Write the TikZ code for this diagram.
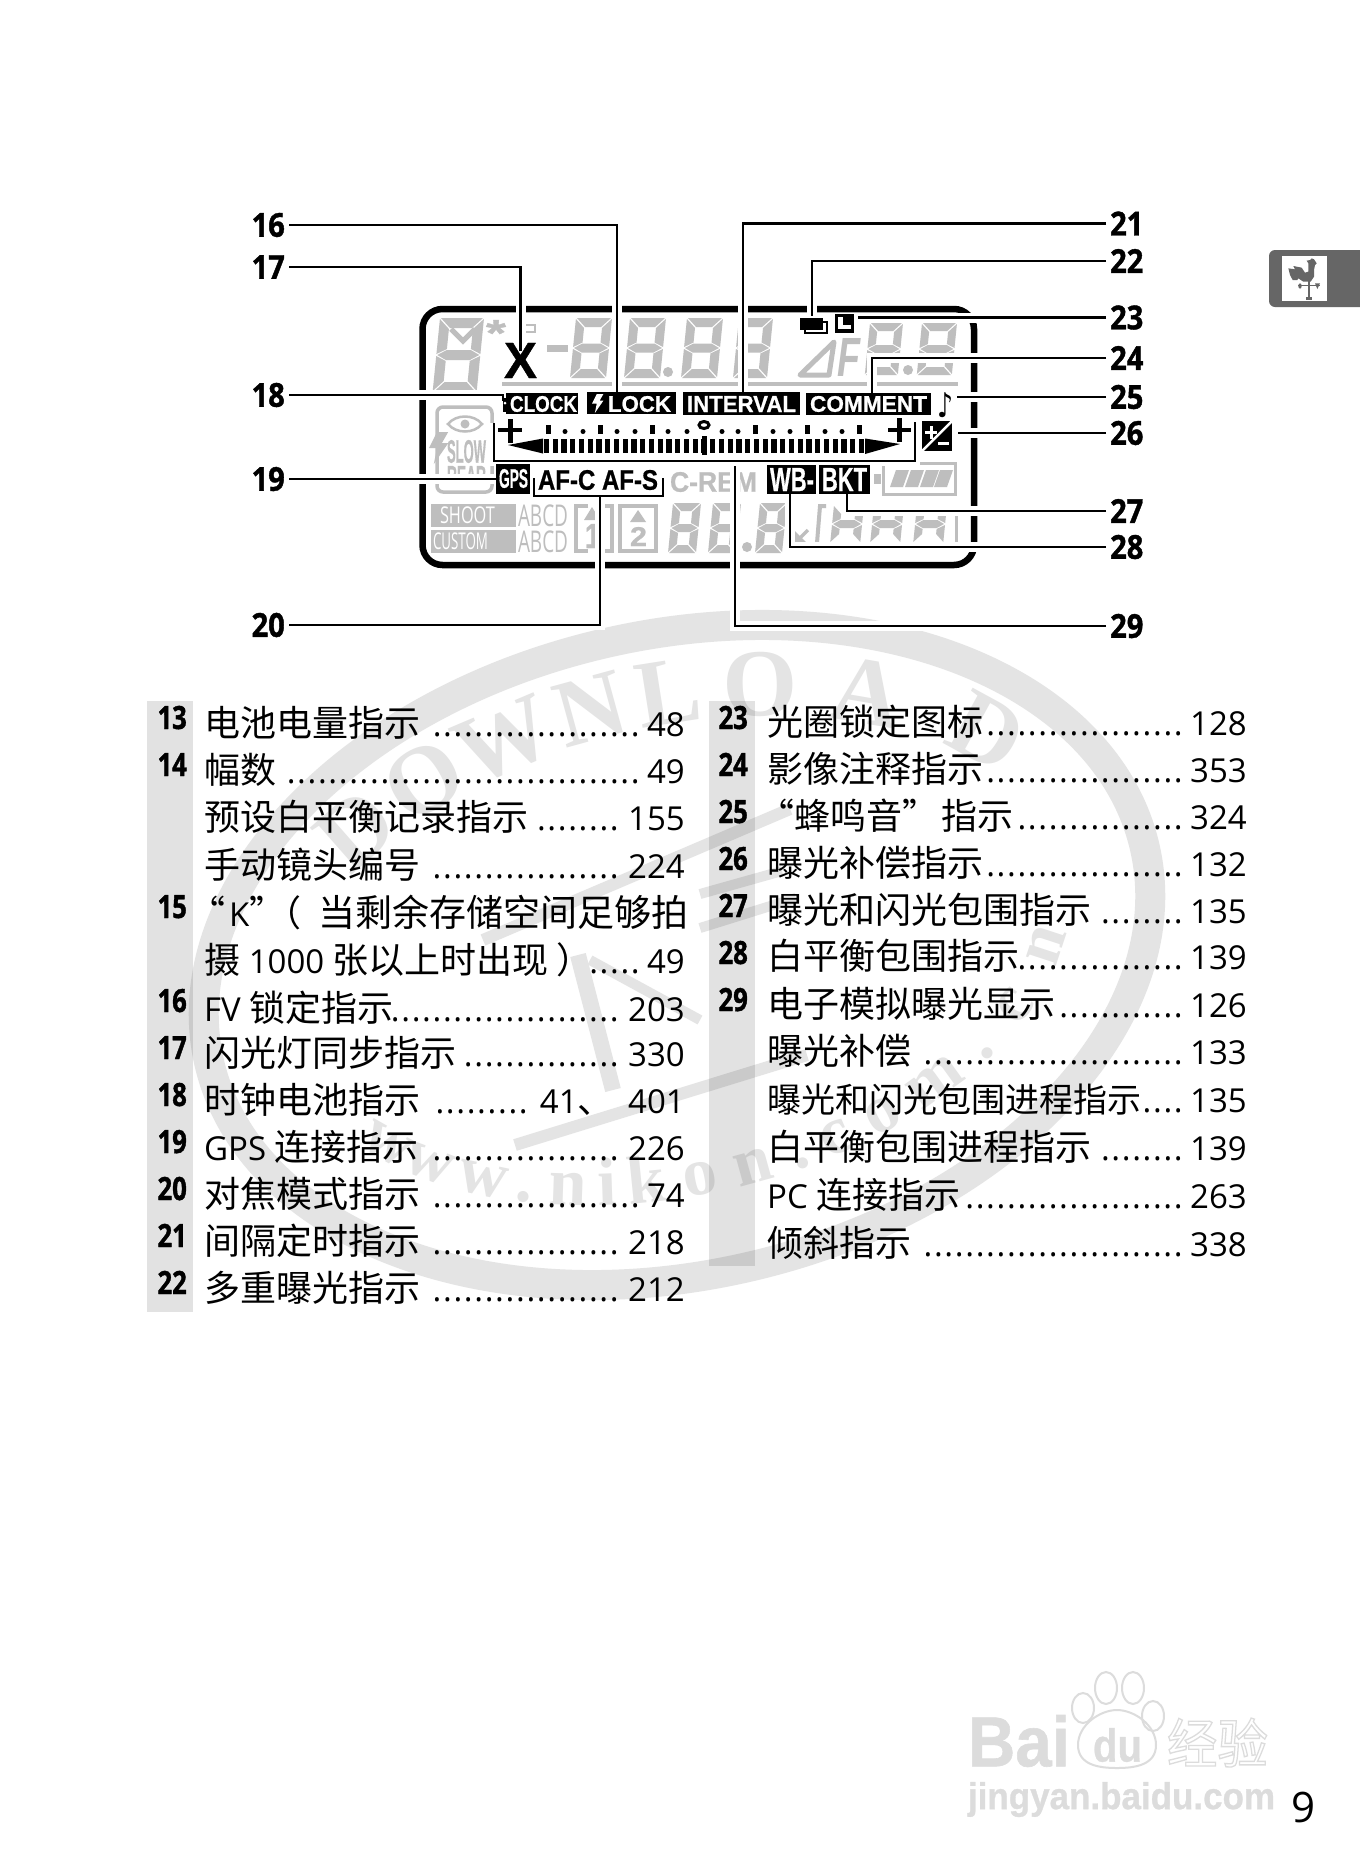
\documentclass[tikz,border=0pt]{standalone}
\usepackage{fontspec}
\usepackage{graphicx}
\setmainfont{Open Sans}
\newfontfamily\cn{Noto Sans CJK SC}
\newfontfamily\numf[FakeStretch=.88,BoldFeatures={FakeBold=1.2}]{Open Sans}
\newfontfamily\numl[FakeStretch=.8,BoldFeatures={FakeBold=1.2}]{Open Sans}
\newfontfamily\dotf[LetterSpace=5]{Open Sans}
\newfontfamily\hv[BoldFeatures={FakeBold=.8}]{Liberation Sans}
\newfontfamily\wmf{Liberation Serif}
\newfontfamily\djv{DejaVu Sans}
\definecolor{lcd}{HTML}{BEBEBE}
\definecolor{wmc}{HTML}{E4E4E4}
\definecolor{tabc}{HTML}{666666}
\definecolor{baidu}{HTML}{DCDCDC}
\tikzset{
  txt/.style={inner sep=0,font=\fontsize{33}{40}\selectfont},
  dotst/.style={inner sep=0,font=\dotf\fontsize{33}{40}\selectfont},
  numst/.style={inner sep=0,font=\numf\bfseries\fontsize{33}{36}\selectfont},
  numlist/.style={inner sep=0,font=\numl\bfseries\fontsize{32}{36}\selectfont},
  conn/.style={line width=2.6,preaction={draw=white,line width=10}},
  thin bracket/.style={line width=2.6},
  glyph/.style={inner sep=0},
}
\newcommand\zh[1]{{\cn\fontsize{36}{40}\selectfont #1}}
\newcommand\zhs[2]{{\cn\fontsize{#1}{40}\selectfont #2}}
\newcommand\knum[3]{\node[numlist,anchor=base east] (k#1) at (#2,#3) {#1};}
\newcommand\row[8]{%
  \node[txt,anchor=base west] (#1l) at (#2,#3) {#4};
  \node[dotst,anchor=base east] (#1d) at (#5,#3) {#6};
  \node[txt,anchor=base east] (#1p) at (#8,#3) {#7};}
% text fitted exactly in a box: name,x1,y1,x2,y2,colour,text
\newcommand\fitt[7]{%
  \pgfmathsetlengthmacro\fw{#4-#2}\pgfmathsetlengthmacro\fh{#5-#3}%
  \node[glyph,text=#6] (#1) at ({(#2+#4)/2},{(#3+#5)/2}) {\resizebox*{\fw}{\fh}{#7}};}
% side and middle segments: x(top left),y,w,h,t
\newcommand\hseg[5]{%
  \begin{scope}[shift={(#1,#2)},xslant=.1]
    \fill[lcd] (0,1)--(#5,{#5+1})--(#5,{#4/2-#5/2-1})--(0,{#4/2-1})--cycle;
    \fill[lcd] (#3,1)--({#3-#5},{#5+1})--({#3-#5},{#4/2-#5/2-1})--(#3,{#4/2-1})--cycle;
    \fill[lcd] (0,{#4-1})--(#5,{#4-#5-1})--(#5,{#4/2+#5/2+1})--(0,{#4/2+1})--cycle;
    \fill[lcd] (#3,{#4-1})--({#3-#5},{#4-#5-1})--({#3-#5},{#4/2+#5/2+1})--(#3,{#4/2+1})--cycle;
    \fill[lcd] (1,{#4/2})--(#5,{#4/2-#5/2})--({#3-#5},{#4/2-#5/2})--({#3-1},{#4/2})--({#3-#5},{#4/2+#5/2})--(#5,{#4/2+#5/2})--cycle;
  \end{scope}}
% seven segments: x(top left),y,w,h,t
\newcommand\sevenseg[5]{%
  \hseg{#1}{#2}{#3}{#4}{#5}%
  \begin{scope}[shift={(#1,#2)},xslant=.1]
    \fill[lcd] (1,0)--({#3-1},0)--({#3-#5-1},#5)--({#5+1},#5)--cycle;
    \fill[lcd] (1,#4)--({#3-1},#4)--({#3-#5-1},{#4-#5})--({#5+1},{#4-#5})--cycle;
  \end{scope}}
\newcommand\bolt[4]{% x,y,scale,colour
  \fill[#4,shift={(#1,#2)},scale=#3] (5,0)--(12,0)--(8,7)--(12,7)--(3,20)--(5,10)--(0,10)--cycle;}
% a stamp letter on the tilted ellipse: letter, angle, a, b, size, direction
\newcommand\stampl[6]{%
  \pgfmathsetmacro\sx{677+#3*cos(#2)*cos(13)-#4*sin(#2)*sin(13)}%
  \pgfmathsetmacro\sy{955-(#3*cos(#2)*sin(13)+#4*sin(#2)*cos(13))}%
  \pgfmathsetmacro\sr{atan2(#6*#4*cos(#2),-#6*#3*sin(#2))+13}%
  \node[inner sep=0,anchor=base,rotate=\sr,text=wmc,font=\wmf\bfseries\fontsize{#5}{#5}\selectfont] (wm#2) at (\sx,\sy) {#1};}
\begin{document}
\begin{tikzpicture}[x=1pt,y=-1pt]
\useasboundingbox (0,0) rectangle (1360,1872);
\fill[white] (0,0) rectangle (1360,1872);

% ---------- stamp in the background
\draw[wmc,line width=30,rotate around={13:(677,955)}] (677,955) ellipse [x radius=480,y radius=320];
\foreach \ch/\t in {D/133,O/120,W/107,N/94,L/83,O/70,A/54,D/33}{\stampl{\ch}{\t}{395}{228}{96}{-1}}
\foreach \ch/\t in {w/213,w/222,w/232,./239,n/246,i/252,k/258,o/266,n/274,./281,c/287,o/295,m/305,./315,c/325,n/340}{\stampl{\ch}{\t}{400}{240}{68}{1}}
\draw[wmc,line width=12] (483,940)--(790,809);
\draw[wmc,line width=12] (515,1145)--(807,1055);
\draw[wmc,line width=10] (700,894)--(782,871);
\draw[wmc,line width=10] (700,928)--(796,898);
\draw[wmc,line width=16] (578,955)--(613,1090);
\draw[wmc,line width=10] (590,960)--(700,1020);

% ---------- number strips
\fill[black,opacity=.115] (147,701) rectangle (193,1312);
\fill[black,opacity=.115] (709,701) rectangle (755,1266);

% ---------- tab, page number
\fill[tabc,rounded corners=6] (1380,250)--(1269,250)--(1269,307)--(1380,307)--cycle;
\fill[white] (1282,256) rectangle (1327,301);
\begin{scope}[shift={(1240,230)},x=.3333pt,y=-.3333pt]
  \fill[tabc] (145,115)--(165,118)--(160,108)--(185,113)--(195,128)--(205,125)--(205,100)--(200,92)--(210,90)--(215,85)--(222,88)--(230,100)--(225,105)--(222,120)--(222,140)--(212,155)--(190,155)--(175,145)--(172,150)--(158,150)--(150,135)--cycle;
  \fill[tabc] (204,150) rectangle (210,205);
  \fill[tabc] (175,164) rectangle (240,167);
  \fill[tabc] (180,168) ellipse [x radius=5,y radius=8];
  \fill[tabc] (225,160)--(240,160)--(232,177)--cycle;
  \fill[tabc] (198,200) rectangle (216,210);
\end{scope}
\node[inner sep=0,anchor=base east,font=\fontsize{42}{48}\selectfont] (pageno) at (1316,1822) {9};

% ---------- baidu mark
\newcommand\outl[2]{\special{pdf:code 1 Tr #1 w}#2\special{pdf:code 0 Tr}}
\fitt{bai}{968}{1715}{1070}{1767}{baidu}{\hv\bfseries\outl{.35}{Bai}}
\fitt{bdu}{1093}{1728}{1142}{1762}{baidu}{\hv\bfseries\outl{.35}{du}}
\fitt{bjy}{1167}{1718}{1268}{1767}{baidu}{\cn\outl{.25}{经验}}
\fitt{burl}{968}{1782}{1275}{1817}{baidu}{\hv\bfseries\outl{.25}{jingyan.baidu.com}}
\draw[baidu,line width=2] (1078,1745) .. controls (1078,1725) and (1100,1710) .. (1117,1710) .. controls (1134,1710) and (1156,1725) .. (1156,1745) .. controls (1156,1765) and (1135,1768) .. (1117,1768) .. controls (1099,1768) and (1078,1765) .. (1078,1745) -- cycle;
\draw[baidu,line width=2] (1083,1708) ellipse [x radius=11,y radius=15];
\draw[baidu,line width=2] (1106,1688) ellipse [x radius=11,y radius=16];
\draw[baidu,line width=2] (1133,1688) ellipse [x radius=11,y radius=16];
\draw[baidu,line width=2] (1153,1716) ellipse [x radius=11,y radius=15];

% ---------- grey LCD segments
\sevenseg{440}{318}{44}{74}{10}
\draw[lcd,line width=5] (451,329)--(463,341)--(475,329);
\fitt{star}{486}{320}{506}{346}{lcd}{\hv\bfseries *}
\draw[lcd,line width=2] (518,315)--(525,315)--(525,325)--(535,325)--(535,332)--(518,332)--cycle;
\fill[lcd] (547,345) rectangle (568,352);
\sevenseg{576}{318}{36}{60}{9}
\sevenseg{630}{318}{36}{60}{9}
\fill[lcd] (668,372) circle (5);
\sevenseg{687}{318}{36}{60}{9}
\sevenseg{739}{318}{34}{60}{9}
\draw[lcd,line width=5,line join=round] (800,375)--(829,375)--(834,342)--cycle;
\fitt{ff}{837}{338}{860}{376}{lcd}{\hv\bfseries\itshape F}
\sevenseg{870}{323}{33}{52}{8}
\fill[lcd] (908,370) circle (5);
\sevenseg{922}{323}{35}{52}{8}
\fill[lcd] (502,382) rectangle (958,385.5);
% flash box
\draw[lcd,line width=3.5,rounded corners=6] (437,407) rectangle (492,492);
\draw[lcd,line width=2.5] (448,424) .. controls (456,414) and (474,414) .. (482,424) .. controls (474,434) and (456,434) .. (448,424) -- cycle;
\fill[lcd] (465,424) circle (4.5);
\bolt{429}{432}{1.6}{lcd}
\fitt{slow}{447}{440}{486}{463}{lcd}{\hv\bfseries SLOW}
\begin{scope}
  \clip (440,464) rectangle (490,476);
  \fitt{rear}{447}{466}{486}{486}{lcd}{\hv\bfseries REAR}
\end{scope}
% bottom row
\fill[lcd] (431,504) rectangle (516,527);
\fill[lcd] (431,530) rectangle (516,553);
\fitt{shoot}{440}{507}{495}{524}{white}{SHOOT}
\fitt{custom}{433}{533}{488}{550}{white}{CUSTOM}
\fitt{abcd}{518}{505}{568}{527}{lcd}{\numf ABCD}
\fitt{abcdb}{518}{531}{568}{553}{lcd}{\numf ABCD}
\draw[lcd,line width=3.5] (588,506)--(576,506)--(576,551)--(588,551);
\draw[lcd,line width=3.5] (600,506)--(612,506)--(612,551)--(600,551);
\fill[lcd] (592,507)--(600,520)--(584,520)--cycle;
\fitt{one}{585}{524}{600}{548}{lcd}{\hv\bfseries 1}
\draw[lcd,line width=3.5] (620,506) rectangle (656,551);
\fill[lcd] (638,510)--(646,522)--(630,522)--cycle;
\fitt{two}{630}{527}{647}{546}{lcd}{\hv\bfseries 2}
\sevenseg{673}{503}{28}{50}{8}
\sevenseg{713}{503}{28}{50}{8}
\fill[lcd] (747,547) circle (5);
\sevenseg{760}{503}{27}{50}{8}
\draw[lcd,line width=3.5] (808,530)--(796,542);
\fill[lcd] (794,530)--(794,544)--(808,544)--cycle;
\draw[lcd,line width=4] (826,506)--(820,506)--(817,543);
\hseg{834}{505}{30}{38}{8}
\hseg{874}{505}{30}{38}{8}
\hseg{917}{505}{30}{38}{8}
\fill[lcd] (955,508) rectangle (958,543);
\fitt{crem}{670}{472}{757}{492}{lcd}{\hv\bfseries C-REM}
% battery
\draw[lcd,line width=3] (883,463) rectangle (955,494);
\fill[lcd] (874,474) rectangle (881,484);
\foreach \bx in {890,905,920,934}{\fill[lcd] (\bx,487)--(\bx+6,470)--(\bx+19,470)--(\bx+13,487)--cycle;}

% ---------- frame
\draw[line width=6.5,rounded corners=20] (422.5,309) rectangle (974,565);

% ---------- call-out labels
\node[numst,anchor=east] (n16) at (285,225) {16};
\node[numst,anchor=east] (n17) at (285,267) {17};
\node[numst,anchor=east] (n18) at (285,395) {18};
\node[numst,anchor=east] (n19) at (285,479) {19};
\node[numst,anchor=east] (n20) at (285,625) {20};
\node[numst,anchor=west] (n21) at (1110,223.5) {21};
\node[numst,anchor=west] (n22) at (1110,261) {22};
\node[numst,anchor=west] (n23) at (1110,317.5) {23};
\node[numst,anchor=west] (n24) at (1110,358) {24};
\node[numst,anchor=west] (n25) at (1110,397) {25};
\node[numst,anchor=west] (n26) at (1110,433) {26};
\node[numst,anchor=west] (n27) at (1110,511) {27};
\node[numst,anchor=west] (n28) at (1110,547) {28};
\node[numst,anchor=west] (n29) at (1110,626) {29};
\coordinate (c16) at (617,409);
\coordinate (c17) at (520.5,351);
\coordinate (c18) at (503,401);
\coordinate (c19) at (497,479);
\coordinate (c20) at (600,496);
\coordinate (c21) at (743,393);
\coordinate (c22) at (812,316);
\coordinate (c23) at (858,317.5);
\coordinate (c24) at (872,394);
\coordinate (c25) at (957,397);
\coordinate (c26) at (958,433);
\coordinate (c27) at (847,494);
\coordinate (c28) at (790,494);
\coordinate (c29) at (735,461);
\draw[conn] ([xshift=4]n16.east) -| (c16);
\draw[conn] ([xshift=4]n17.east) -| (c17);
\draw[conn] ([xshift=4]n18.east) -| (c18);
\draw[conn] ([xshift=4]n19.east) -- (c19);
\draw[conn] ([xshift=4]n20.east) -| (c20);
\draw[conn] ([xshift=-4]n21.west) -| (c21);
\draw[conn] ([xshift=-4]n22.west) -| (c22);
\draw[conn] ([xshift=-4]n23.west) -- (c23);
\draw[conn] ([xshift=-4]n24.west) -| (c24);
\draw[conn] ([xshift=-4]n25.west) -- (c25);
\draw[conn] ([xshift=-4]n26.west) -- (c26);
\draw[conn] ([xshift=-4]n27.west) -| (c27);
\draw[conn] ([xshift=-4]n28.west) -| (c28);
\draw[conn] ([xshift=-4]n29.west) -| (c29);
% brackets
\draw[conn] (494,423) |- (915,461) -- (915,422);
\draw[thin bracket] (534,478) |- (663,496) -- (663,478);

% ---------- black LCD items
\fitt{bigx}{504}{343}{537}{378}{black}{\hv\bfseries X}
\fill (506,393) rectangle (578,414);
\fill (503,398) rectangle (507,412);
\fill[white] (505,403) circle (1.5);
\fitt{tclock}{510}{396}{577}{412}{white}{\hv\bfseries CLOCK}
\fill (587,392) rectangle (676,414);
\bolt{592}{394}{.95}{white}
\fitt{tlock}{608}{396}{671}{412}{white}{\hv\bfseries LOCK}
\fill (683,392) rectangle (800,415);
\fitt{tinterval}{687}{396}{796}{412}{white}{\hv\bfseries INTERVAL}
\fill (806,393) rectangle (931,415);
\fitt{tcomment}{810}{396}{927}{412}{white}{\hv\bfseries COMMENT}
\fitt{tnote}{937}{393}{953}{418}{black}{\djv ♪}
% multi exposure + L
\draw[line width=2.6] (801,319) rectangle (822,329);
\fill (801,319) rectangle (822,329);
\draw[line width=2] (805,322) rectangle (827,333);
\fill (807,323) rectangle (820,329);
\fill (835,314) rectangle (854,333);
\fill[white] (838,317) rectangle (843,329);
\fill[white] (838,325) rectangle (851,329);
% exposure scale
\foreach \i in {-18,...,18}{\fill ({704+8.75*\i-2.6},439) rectangle ({704+8.75*\i+2.6},453);}
\fill (701.5,436) rectangle (706.5,455);
\fill (508,445)--(543,438.5)--(543,453.5)--cycle;
\fill (865,438.5)--(865,454)--(900,444)--cycle;
\foreach \bx in {548,600,652,755,807,859}{\fill (\bx-2.5,425) rectangle (\bx+2.5,434);}
\foreach \dx in {565,583,617,635,668,687,722,738,773,790,825,842}{\fill (\dx,431.5) circle (2.5);}
\draw[line width=3] (704,425) ellipse [x radius=5,y radius=3.5];
\fill (498,428) rectangle (522,432);
\fill (507.5,419) rectangle (512.5,443);
\fill (888,428) rectangle (911,432);
\fill (896.5,418) rectangle (901.5,442);
% +/- box
\fill (922,421) rectangle (952,451);
\draw[white,line width=2.5] (922,451)--(952,421);
\fill[white] (925,431) rectangle (937,434);
\fill[white] (929.5,426) rectangle (932.5,439);
\fill[white] (938,442) rectangle (949,445);
% mode boxes
\fill (496,464) rectangle (530,494);
\fitt{tgps}{499}{469}{528}{488}{white}{\hv\bfseries GPS}
\fitt{taf}{538}{470}{658}{490}{black}{\hv\bfseries AF-C AF-S}
\fill (767,465) rectangle (816,494);
\fitt{twb}{770}{468}{814}{491}{white}{\hv\bfseries WB-}
\fill (819,465) rectangle (870,494);
\fitt{tbkt}{822}{468}{867}{491}{white}{\hv\bfseries BKT}

% ---------- list, left column
\knum{13}{187}{729}
\knum{14}{187}{776}
\knum{15}{187}{918}
\knum{16}{187}{1012}
\knum{17}{187}{1059}
\knum{18}{187}{1106}
\knum{19}{187}{1153}
\knum{20}{187}{1200}
\knum{21}{187}{1247}
\knum{22}{187}{1294}
\row{a}{204}{736}{\zh{电池电量指示}}{640}{....................}{48}{685}
\row{b}{204}{783}{\zh{幅数}}{640}{..................................}{49}{685}
\row{c}{204}{830}{\zh{预设白平衡记录指示}}{619}{........}{155}{685}
\row{d}{204}{878}{\zh{手动镜头编号}}{619}{..................}{224}{685}
\node[txt,anchor=base west] (el) at (204,926) {\kern-15pt\zh{“}\kern4pt K\zh{”}\kern-20pt\zh{（}\zhs{37}{\kern17pt 当剩余存储空间足够拍}};
\row{f}{204}{973}{\zh{摄} 1000 \zh{张以上时出现 ）}}{640}{.....}{49}{685}
\row{g}{204}{1021}{FV \zh{锁定指示}}{619}{......................}{203}{685}
\row{h}{204}{1066}{\zh{闪光灯同步指示}}{619}{...............}{330}{685}
\row{i}{204}{1113}{\zh{时钟电池指示}}{528}{.........}{41\zh{、}\kern6pt{} 401}{685}
\row{j}{204}{1160}{GPS \zh{连接指示}}{619}{..................}{226}{685}
\row{k}{204}{1207}{\zh{对焦模式指示}}{640}{....................}{74}{685}
\row{l}{204}{1254}{\zh{间隔定时指示}}{619}{..................}{218}{685}
\row{m}{204}{1301}{\zh{多重曝光指示}}{619}{..................}{212}{685}

% ---------- list, right column
\knum{23}{748}{729}
\knum{24}{748}{776}
\knum{25}{748}{823}
\knum{26}{748}{870}
\knum{27}{748}{917}
\knum{28}{748}{964}
\knum{29}{748}{1011}
\row{ra}{767}{735}{\zh{光圈锁定图标}}{1183}{...................}{128}{1247}
\row{rb}{767}{782}{\zh{影像注释指示}}{1183}{...................}{353}{1247}
\row{rc}{767}{829}{\kern-9pt\zh{“蜂鸣音”}\kern-5pt\zh{ 指示}}{1183}{................}{324}{1247}
\row{rd}{767}{876}{\zh{曝光补偿指示}}{1183}{...................}{132}{1247}
\row{re}{767}{923}{\zh{曝光和闪光包围指示}}{1183}{........}{135}{1247}
\row{rf}{767}{969}{\zh{白平衡包围指示}}{1183}{................}{139}{1247}
\row{rg}{767}{1017}{\zh{电子模拟曝光显示}}{1183}{............}{126}{1247}
\row{rh}{767}{1064}{\zh{曝光补偿}}{1183}{.........................}{133}{1247}
\row{ri}{767}{1112}{\zhs{34}{曝光和闪光包围进程指示}}{1183}{....}{135}{1247}
\row{rj}{767}{1160}{\zh{白平衡包围进程指示}}{1183}{........}{139}{1247}
\row{rk}{767}{1208}{PC \zh{连接指示}}{1183}{.....................}{263}{1247}
\row{rl}{767}{1256}{\zh{倾斜指示}}{1183}{.........................}{338}{1247}
\end{tikzpicture}
\end{document}
